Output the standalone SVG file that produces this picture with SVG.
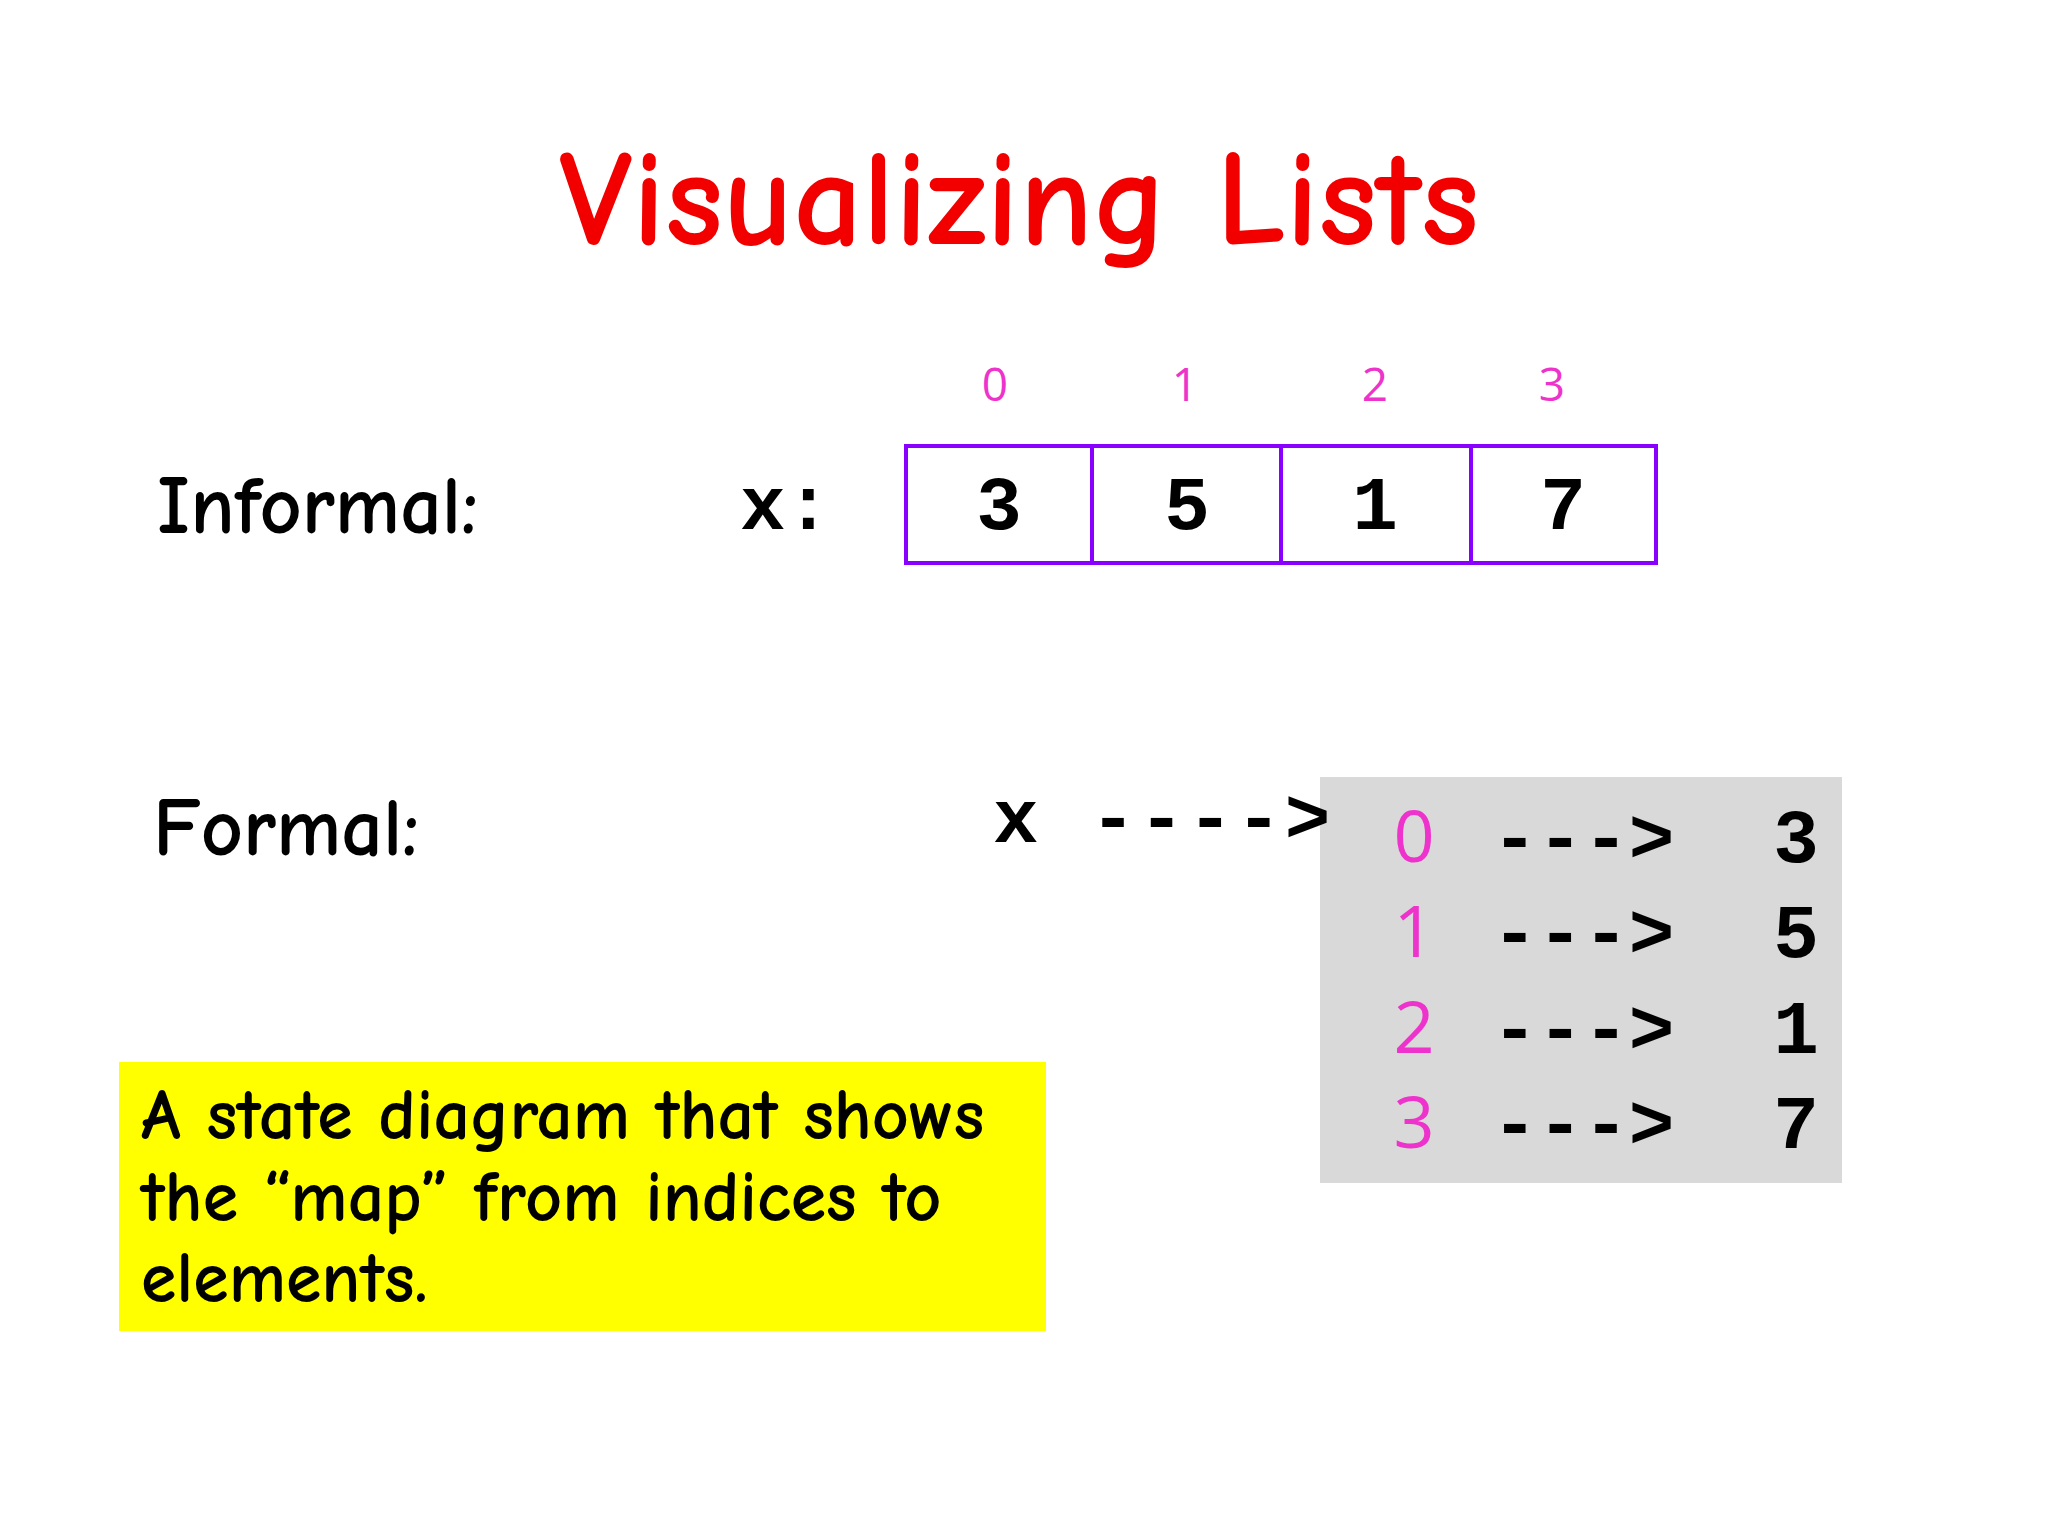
<svg xmlns="http://www.w3.org/2000/svg" width="2048" height="1536" viewBox="0 0 2048 1536">
<style>
.hand{font-family:"Comic Neue","Liberation Sans",sans-serif;font-weight:bold;fill:#000}
.mono{font-family:"Liberation Mono",monospace;font-weight:bold;fill:#000}
.idx{font-family:"Open Sans","Liberation Sans",sans-serif;fill:#ee33cc;text-anchor:middle}
.cell{fill:#fff;stroke:#8a00ff;stroke-width:4}
</style>
<rect width="2048" height="1536" fill="#fff"/>
<text x="1019" y="244" text-anchor="middle" class="hand" style="fill:#f20000;font-size:136px">Visualizing Lists</text>
<g id="informal">
<text x="157" y="533" class="hand" font-size="82">Informal:</text>
<text x="740" y="529" class="mono" font-size="76">x:</text>
<text x="995" y="401" class="idx" font-size="46">0</text>
<text x="1185" y="401" class="idx" font-size="46">1</text>
<text x="1375" y="401" class="idx" font-size="46">2</text>
<text x="1552" y="401" class="idx" font-size="46">3</text>
<rect x="906" y="446" width="186" height="117" class="cell"/>
<rect x="1092" y="446" width="189" height="117" class="cell"/>
<rect x="1281" y="446" width="190" height="117" class="cell"/>
<rect x="1471" y="446" width="185" height="117" class="cell"/>
<g class="mono" font-size="76" text-anchor="middle">
<text x="999" y="529">3</text><text x="1187" y="529">5</text><text x="1375" y="529">1</text><text x="1563" y="529">7</text>
</g>
</g>
<g id="formal">
<text x="153" y="855" class="hand" font-size="82">Formal:</text>
<rect x="1320" y="777" width="522" height="406" fill="#d9d9d9"/>
<text x="993" y="842" class="mono" font-size="76" letter-spacing="3" xml:space="preserve">x ----&gt;</text>
<text x="1414" y="862" class="idx" font-size="72">0</text>
<text x="1414" y="957" class="idx" font-size="72">1</text>
<text x="1414" y="1053" class="idx" font-size="72">2</text>
<text x="1414" y="1148" class="idx" font-size="72">3</text>
<g class="mono" font-size="76">
<text x="1492" y="862">---&gt;</text><text x="1492" y="957">---&gt;</text><text x="1492" y="1053">---&gt;</text><text x="1492" y="1148">---&gt;</text>
</g>
<g class="mono" font-size="76" text-anchor="middle">
<text x="1796" y="862">3</text><text x="1796" y="957">5</text><text x="1796" y="1053">1</text><text x="1796" y="1148">7</text>
</g>
</g>
<g id="note">
<rect x="119" y="1062" width="927" height="269" fill="#ffff00"/>
<g class="hand" font-size="72">
<text x="141" y="1139">A state diagram that shows</text>
<text x="141" y="1221">the “map” from indices to</text>
<text x="141" y="1302">elements.</text>
</g>
</g>
</svg>
